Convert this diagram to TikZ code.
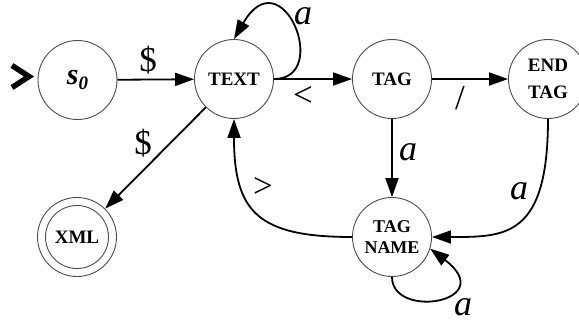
\documentclass[tikz,border=0pt]{standalone}
\usepackage{fontspec}
\setmainfont{Liberation Serif}
\usetikzlibrary{arrows.meta}
\tikzset{
  state/.style={circle, draw=black!70, line width=0.9pt, minimum size=79pt,
    inner sep=0pt, align=center, font=\fontsize{19}{22}\selectfont\bfseries},
  trans/.style={line width=1.8pt, -{Triangle[length=19pt,width=13pt]}},
  sym/.style={inner sep=0pt, font=\fontsize{35}{35}\selectfont},
  letter/.style={inner sep=0pt, font=\fontsize{36}{36}\selectfont\itshape},
  startmark/.style={line width=5.5pt, line join=miter, line cap=butt},
}
\begin{document}
\begin{tikzpicture}[x=1pt,y=-1pt]
\useasboundingbox (0,0) rectangle (579,322);

% states
\node[state] (s0) at (77.5,80)
  {\fontsize{30}{30}\selectfont\bfseries\itshape s\raisebox{-5pt}{\fontsize{19}{19}\selectfont 0}};
\node[state] (text) at (234,79) {TEXT};
\node[state] (tag) at (392,79) {TAG};
\node[state, font=\fontsize{19}{27}\selectfont\bfseries] (endtag) at (548,79) {END\\TAG};
\node[state, font=\fontsize{18}{21.5}\selectfont\bfseries] (tagname) at (392,237) {TAG\\NAME};
\node[state] (xml) at (77,237) {XML};
\draw[black!70, line width=0.9pt] (xml.center) circle (31.5);

% start marker
\draw[startmark] (12,65.5) -- (29,76.5) -- (12,87.5);

% transitions
\draw[trans] (s0) -- (text);
\draw[trans] (text) -- (xml);
\draw[trans] (text.east) .. controls (332,79) and (282,-44) .. (text.north);
\draw[trans] (text) -- (tag);
\draw[trans] (tag) -- (endtag);
\draw[trans] (tag) -- (tagname);
\draw[trans] (endtag.south) .. controls (548,238) and (505,237) .. (tagname.east);
\draw[trans] (tagname.west) .. controls (258,237) and (234,212) .. (text.south);
\draw[trans] (tagname.south) .. controls (392,320) and (500,302) .. (tagname.-17);

% transition labels
\node[sym] (l1) at (148,60) {\$};
\node[sym] (l2) at (143,143) {\$};
\node[letter] (l3) at (303,16) {a};
\node[sym] (l4) at (303,96) {<};
\node[sym] (l5) at (460,98) {/};
\node[letter] (l6) at (408,152) {a};
\node[letter] (l7) at (519,191) {a};
\node[sym] (l8) at (263,187) {>};
\node[letter] (l9) at (463,307) {a};
\end{tikzpicture}
\end{document}
